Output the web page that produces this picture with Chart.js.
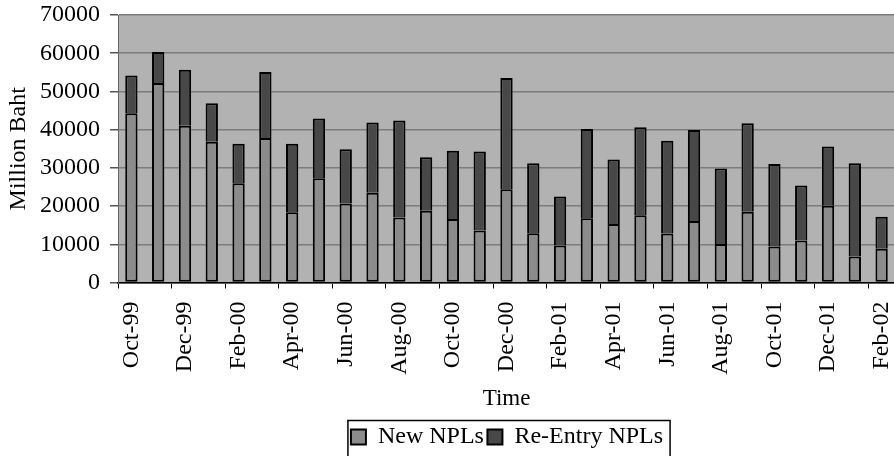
<!DOCTYPE html>
<html>
<head>
<meta charset="utf-8">
<script src="https://cdn.jsdelivr.net/npm/chart.js@4.4.1/dist/chart.umd.min.js"></script>
<style>
  html, body { margin: 0; padding: 0; overflow: hidden; background: #fff; }
  #wrap { width: 1014px; height: 456px; }
</style>
</head>
<body>
<div id="wrap"><canvas id="c" width="1014" height="456"></canvas></div>
<script>
// Monthly NPL flows, Oct-99 to Feb-02 (million baht)
const months = ['Oct-99','Nov-99','Dec-99','Jan-00','Feb-00','Mar-00','Apr-00','May-00','Jun-00','Jul-00',
  'Aug-00','Sep-00','Oct-00','Nov-00','Dec-00','Jan-01','Feb-01','Mar-01','Apr-01','May-01',
  'Jun-01','Jul-01','Aug-01','Sep-01','Oct-01','Nov-01','Dec-01','Jan-02','Feb-02'];

const newNPLs = [44300, 52200, 41000, 36800, 26000, 37800, 18400, 27300, 20700, 23500,
  17000, 18800, 16600, 13600, 24400, 12900, 9700, 16800, 15300, 17600,
  12800, 16100, 10100, 18500, 9400, 11000, 20100, 6800, 8800];

const reEntryNPLs = [9900, 8100, 14700, 10100, 10300, 17300, 17900, 15600, 14200, 18400,
  25400, 14000, 17900, 20700, 29100, 18300, 12800, 23400, 16900, 23000,
  24300, 23800, 19700, 23200, 21600, 14400, 15500, 24400, 8400];

const yTicks = [0, 10000, 20000, 30000, 40000, 50000, 60000, 70000];

const FONT = 'Liberation Serif';

// Gray plot background behind the bars
const plotBackground = {
  id: 'plotBackground',
  beforeDraw(chart) {
    const { ctx, chartArea: a } = chart;
    ctx.save();
    ctx.fillStyle = '#b2b2b2';
    ctx.fillRect(a.left, a.top, a.right - a.left, a.bottom - a.top);
    ctx.restore();
  }
};

// Frame around the legend entries
const legendFrame = {
  id: 'legendFrame',
  afterDraw(chart) {
    const boxes = chart.legend && chart.legend.legendHitBoxes;
    if (!boxes || !boxes.length) return;
    const first = boxes[0], last = boxes[boxes.length - 1];
    const left = first.left - 3;
    const right = last.left + last.width + 7;
    const top = first.top - 4.5;
    const { ctx } = chart;
    ctx.save();
    ctx.strokeStyle = '#000';
    ctx.lineWidth = 1.5;
    ctx.strokeRect(left, top, right - left, chart.height + 10 - top);
    ctx.restore();
  }
};

new Chart(document.getElementById('c'), {
  type: 'bar',
  data: {
    labels: months,
    datasets: [
      {
        label: 'New NPLs',
        data: newNPLs,
        backgroundColor: '#8c8c8c',
        borderColor: '#000',
        borderWidth: 2,
        borderSkipped: false,
        stack: 'npl'
      },
      {
        label: 'Re-Entry NPLs',
        data: reEntryNPLs,
        backgroundColor: '#484848',
        borderColor: '#000',
        borderWidth: 2,
        borderSkipped: 'bottom',
        stack: 'npl'
      }
    ]
  },
  options: {
    responsive: false,
    animation: false,
    layout: { padding: { top: 0, left: 0, right: 0, bottom: -3 } },
    datasets: { bar: { categoryPercentage: 1, barPercentage: 0.46 } },
    plugins: {
      tooltip: { enabled: false },
      legend: {
        position: 'bottom',
        labels: {
          font: { family: FONT, size: 24, lineHeight: 1 },
          color: '#000',
          boxWidth: 15,
          boxHeight: 15,
          padding: 3.5
        }
      }
    },
    scales: {
      x: {
        stacked: true,
        afterFit: s => { s.height = 139; },
        grid: {
          offset: true,
          drawOnChartArea: false,
          tickLength: 6,
          color: ctx => (ctx.index % 2 === 0 ? '#000' : 'rgba(0,0,0,0)'),
          lineWidth: 1
        },
        border: { color: '#000', width: 1.5 },
        ticks: {
          autoSkip: false,
          maxRotation: 90,
          minRotation: 90,
          padding: 13,
          color: '#000',
          font: { family: FONT, size: 24 },
          callback: (v, i) => (i % 2 === 0 ? months[i] : '')
        },
        title: {
          display: true,
          text: 'Time',
          color: '#000',
          font: { family: FONT, size: 23 },
          padding: { top: 6, bottom: 9 }
        }
      },
      y: {
        stacked: true,
        min: 0,
        max: 70000,
        afterBuildTicks: s => { s.ticks = yTicks.map(v => ({ value: v })); },
        afterFit: s => { s.width = 118; s.paddingTop = 15; s.paddingBottom = 0; },
        grid: {
          color: '#7c7c7c',
          lineWidth: 1.5,
          tickLength: 8,
          tickColor: '#555'
        },
        border: { color: '#666', width: 1 },
        ticks: {
          padding: 10,
          color: '#000',
          font: { family: FONT, size: 24 },
          callback: v => String(v)
        },
        title: {
          display: true,
          text: 'Million Baht',
          color: '#000',
          font: { family: FONT, size: 24 },
          padding: { top: 4, bottom: 0 }
        }
      },
      // empty strip on the right that keeps the legend centred under the plot
      pad: {
        type: 'linear',
        position: 'right',
        display: true,
        grid: { display: false },
        border: { display: false },
        ticks: { display: false },
        afterFit: s => { s.width = 119; }
      }
    }
  },
  plugins: [plotBackground, legendFrame]
});
</script>
</body>
</html>
